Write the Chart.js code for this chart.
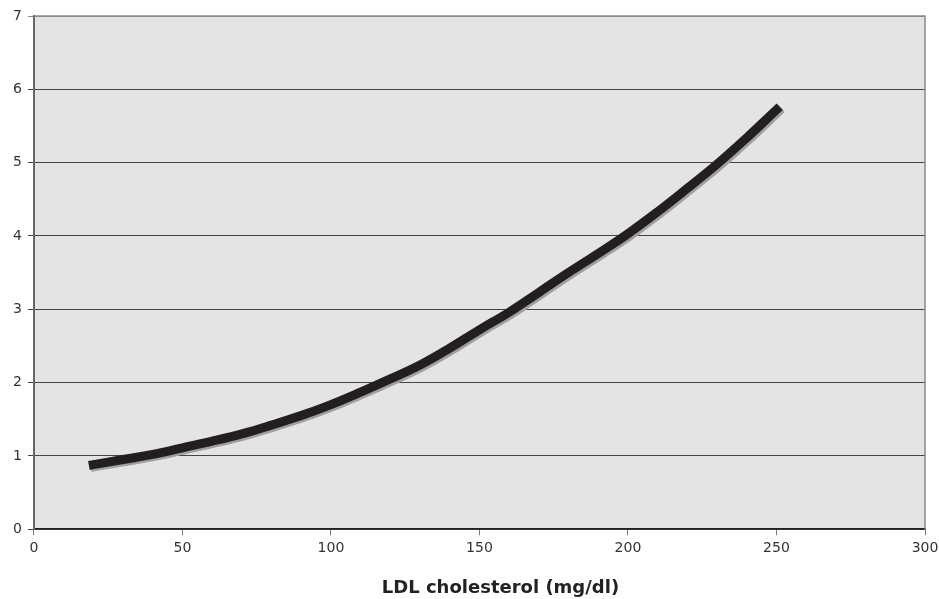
<!DOCTYPE html>
<html>
<head>
<meta charset="utf-8">
<script src="https://cdn.jsdelivr.net/npm/chart.js@4"></script>
<style>
  html, body { margin: 0; padding: 0; background: #fff; }
  #wrap { width: 939px; height: 599px; }
</style>
</head>
<body>
<div id="wrap"><canvas id="chart"></canvas></div>
<script>
// LDL cholesterol (mg/dl) vs value
const ldl = [20, 30, 40, 50, 60, 70, 80, 90, 100, 110, 120, 130, 140, 150, 160, 170, 180, 190, 200, 210, 220, 230, 240, 250];
const risk = [0.88, 0.95, 1.02, 1.11, 1.20, 1.30, 1.42, 1.55, 1.70, 1.87, 2.05, 2.24, 2.47, 2.72, 2.96, 3.23, 3.50, 3.76, 4.03, 4.33, 4.65, 4.98, 5.34, 5.72];
const xTicks = [0, 50, 100, 150, 200, 250, 300];
const yTicks = [0, 1, 2, 3, 4, 5, 6, 7];
const xTitle = 'LDL cholesterol (mg/dl)';

const fontFamily = '"DejaVu Sans", Verdana, sans-serif';

// plot background + top/right frame
const frame = {
    id: 'frame',
    beforeDraw(chart) {
        const { ctx, chartArea: a } = chart;
        ctx.save();
        ctx.fillStyle = '#e4e4e6';
        ctx.fillRect(a.left, a.top, a.right - a.left, a.bottom - a.top);
        ctx.restore();
    },
    afterDatasetsDraw(chart) {
        const { ctx, chartArea: a } = chart;
        ctx.save();
        ctx.strokeStyle = '#8a8a8a';
        ctx.lineWidth = 1.5;
        ctx.beginPath();
        ctx.moveTo(a.left, a.top);
        ctx.lineTo(a.right, a.top);
        ctx.lineTo(a.right, a.bottom);
        ctx.stroke();
        ctx.restore();
    }
};

// x axis title, sits a bit right of the plot centre like the original
const axisTitle = {
    id: 'axisTitle',
    afterDraw(chart) {
        const { ctx, chartArea: a } = chart;
        ctx.save();
        ctx.font = 'bold 18px ' + fontFamily;
        ctx.fillStyle = '#222';
        ctx.textAlign = 'center';
        ctx.textBaseline = 'middle';
        ctx.fillText(xTitle, (a.left + a.right) / 2 + 21, chart.height - 11);
        ctx.restore();
    }
};

// grey drop shadow under the curve
const shadow = {
    id: 'shadow',
    beforeDatasetDraw(chart) {
        const ctx = chart.ctx;
        ctx.save();
        ctx.shadowColor = '#a0a0a0';
        ctx.shadowOffsetX = 2;
        ctx.shadowOffsetY = 2;
        ctx.shadowBlur = 0;
    },
    afterDatasetDraw(chart) {
        chart.ctx.restore();
    }
};

new Chart(document.getElementById('chart'), {
    type: 'line',
    data: {
        datasets: [{
            data: ldl.map((x, i) => ({ x: x, y: risk[i] })),
            borderColor: '#231f20',
            borderWidth: 9,
            borderCapStyle: 'square',
            borderJoinStyle: 'miter',
            tension: 0.4,
            pointRadius: 0,
            fill: false
        }]
    },
    options: {
        responsive: true,
        maintainAspectRatio: false,
        animation: false,
        layout: { padding: { top: 16, right: 0, left: 7, bottom: 37 } },
        plugins: {
            legend: { display: false },
            tooltip: { enabled: false }
        },
        scales: {
            x: {
                type: 'linear',
                min: 0,
                max: 300,
                afterBuildTicks(axis) { axis.ticks = xTicks.map(v => ({ value: v })); },
                // let the last label hang a little past the plot edge
                afterFit(axis) { axis.paddingRight = 14; },
                grid: {
                    drawOnChartArea: false,
                    drawTicks: true,
                    tickLength: 6,
                    color: '#777'
                },
                border: { color: '#222', width: 1.5 },
                ticks: {
                    color: '#333',
                    font: { family: fontFamily, size: 14 },
                    padding: 5,
                    maxRotation: 0
                }
            },
            y: {
                min: 0,
                max: 7,
                afterBuildTicks(axis) { axis.ticks = yTicks.map(v => ({ value: v })); },
                grid: {
                    color: ctx => ctx.tick && ctx.tick.value === 7 ? '#8a8a8a' : '#444',
                    lineWidth: 1,
                    tickLength: 6
                },
                border: { color: '#666', width: 2 },
                ticks: {
                    color: '#333',
                    font: { family: fontFamily, size: 14 },
                    padding: 6
                }
            }
        }
    },
    plugins: [frame, shadow, axisTitle]
});
</script>
</body>
</html>
